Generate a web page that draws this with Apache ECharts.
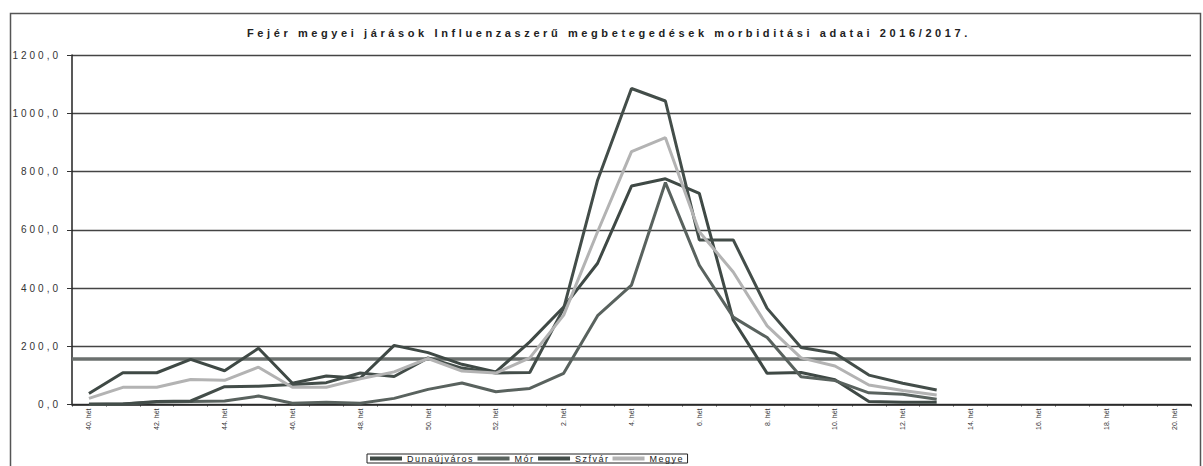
<!DOCTYPE html>
<html>
<head>
<meta charset="utf-8">
<script src="https://cdn.jsdelivr.net/npm/echarts@6/dist/echarts.min.js"></script>
<style>
html,body{margin:0;padding:0;background:#fff;}
#chart{width:1203px;height:466px;}
#chart text[style*="Liberation"]{letter-spacing:3.6px;}
#chart text[style*="Arial"]{letter-spacing:3px;}
#chart text[style*="Helvetica"]{letter-spacing:1.5px;}
</style>
</head>
<body>
<div id="chart"></div>
<script>
// ---- data ----
const weeks = [40,41,42,43,44,45,46,47,48,49,50,51,52,1,2,3,4,5,6,7,8,9,10,11,12,13,14,15,16,17,18,19,20];
const categories = weeks.map(w => w + '. hét');
const seriesNames = ['Dunaújváros', 'Mór', 'Szfvár', 'Megye'];
const dunaujvaros = [38,109,109,155,116,193,73,98,90,203,178,138,112,215,335,485,750,775,725,290,107,110,85,10,8,8];
const mor = [0,2,9,10,12,29,4,8,4,21,52,74,44,55,107,305,410,762,478,300,230,95,82,40,35,18];
const szfvar = [2,2,10,12,61,63,69,75,108,96,160,125,108,110,330,770,1085,1042,565,565,330,196,176,101,73,50];
const megye = [21,59,59,86,83,128,59,59,88,112,158,115,108,160,307,593,868,916,593,455,270,160,132,67,48,33];
const threshold = [157];
const yTicks = [0,200,400,600,800,1000,1200];
const titleText = 'Fejér megyei járások Influenzaszerű megbetegedések morbiditási adatai 2016/2017.';

const colors = ['#3f4945', '#59625e', '#434d49', '#b3b3b3'];
const values = [dunaujvaros, mor, szfvar, megye];

const chart = echarts.init(document.getElementById('chart'), null, {renderer: 'svg'});

const series = seriesNames.map((name, i) => ({
  name: name,
  type: 'line',
  data: values[i],
  symbol: 'none',
  showSymbol: false,
  lineStyle: {color: colors[i], width: 3},
  itemStyle: {color: colors[i]},
  z: 3
}));
series[0].markLine = {
  silent: true,
  symbol: 'none',
  label: {show: false},
  lineStyle: {color: '#6b706e', width: 3.5, type: 'solid'},
  data: [{yAxis: threshold[0]}],
  z: 2
};

const legendSpacing = 1.5;

chart.setOption({
  animation: false,
  backgroundColor: '#fff',
  title: {
    text: titleText,
    left: 242,
    top: 22,
    textStyle: {fontFamily: 'Liberation Sans', fontSize: 11, fontWeight: 'bold', color: '#222'}
  },
  graphic: [{
    type: 'rect', left: 8, top: 11, silent: true,
    shape: {width: 1190, height: 470},
    style: {fill: 'none', stroke: '#555', lineWidth: 1.5}
  }],
  legend: {
    left: 367,
    top: 454,
    itemGap: 3,
    itemWidth: 32,
    itemHeight: 4,
    icon: 'rect',
    padding: [0, 3, 0, 3],
    borderColor: '#222',
    borderWidth: 1,
    textStyle: {fontFamily: 'Helvetica', fontSize: 9, color: '#222'},
    data: seriesNames.map(n => ({
      name: n,
      textStyle: {padding: [0, Math.round(n.length * legendSpacing), 0, 0], backgroundColor: 'rgba(0,0,0,0)'}
    }))
  },
  grid: {left: 72, right: 12, top: 55, bottom: 61.5},
  xAxis: {
    type: 'category',
    data: categories,
    boundaryGap: true,
    axisLine: {lineStyle: {color: '#222', width: 1.5}},
    axisTick: {show: true, interval: 0, length: 2, lineStyle: {color: '#333'}},
    axisLabel: {interval: 1, rotate: 90, fontSize: 7, color: '#333', fontFamily: 'sans-serif', margin: 4, padding: [14, 0, 0, 0]},
    splitLine: {show: false}
  },
  yAxis: {
    type: 'value',
    min: yTicks[0],
    max: yTicks[yTicks.length - 1],
    interval: 200,
    axisLine: {show: true, lineStyle: {color: '#222', width: 1.5}},
    axisTick: {show: true, length: 5, lineStyle: {color: '#333'}},
    splitLine: {lineStyle: {color: '#444', width: 1.3}},
    axisLabel: {
      fontFamily: 'Arial', fontSize: 10, color: '#333', margin: 11,
      formatter: v => v.toFixed(1).replace('.', ',')
    }
  },
  series: series
});
</script>
</body>
</html>
